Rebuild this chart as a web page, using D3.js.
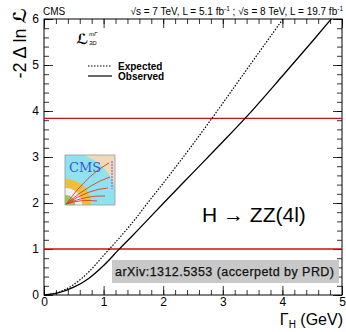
<!DOCTYPE html>
<html>
<head>
<meta charset="utf-8">
<script src="https://cdn.jsdelivr.net/npm/d3@7"></script>
<style>
  body { margin: 0; background: #fff; }
  svg { display: block; font-family: "Liberation Sans", Arial, sans-serif; }
</style>
</head>
<body>
<svg id="chart" width="346" height="332"></svg>
<script>
// values (Gamma_H in GeV, -2 Delta ln L)
const expectedX = [0, 0.25, 0.5, 0.75, 1.0, 1.25, 1.5, 1.75, 2.0, 2.5, 3.0, 3.5, 4.01];
const expectedY = [0, 0.06, 0.23, 0.5, 0.86, 1.22, 1.6, 2.02, 2.43, 3.28, 4.17, 5.08, 6.0];
const observedX = [0, 0.25, 0.5, 0.75, 1.0, 1.25, 1.5, 1.75, 2.0, 2.5, 3.0, 3.5, 4.0, 4.5, 4.82];
const observedY = [0, 0.05, 0.17, 0.36, 0.64, 0.98, 1.31, 1.65, 1.99, 2.66, 3.33, 4.02, 4.76, 5.51, 6.0];
const refLines = [1, 3.84];
const xTicks = [0, 1, 2, 3, 4, 5];
const yTicks = [0, 1, 2, 3, 4, 5, 6];

const svg = d3.select('#chart');
const margin = { left: 44, right: 4, top: 19, bottom: 37 };
const W = 346, H = 332;

const x = d3.scaleLinear().domain([0, 5]).range([margin.left, W - margin.right]);
const y = d3.scaleLinear().domain([0, 6]).range([H - margin.bottom, margin.top]);

const minorX = d3.range(0, 5.001, 0.2);
const minorY = d3.range(0, 6.001, 0.2);

// ticks on all four sides, pointing inwards (ROOT style)
function ticks(axis, scale, vals, size, transform, labels) {
  const g = svg.append('g')
    .attr('transform', transform)
    .call(axis(scale).tickValues(vals).tickSize(-size).tickPadding(labels ? 4 : 0)
      .tickFormat(labels ? d3.format('d') : ''));
  g.select('.domain').remove();
  g.selectAll('line').attr('stroke', '#000').attr('stroke-width', 0.8);
  g.selectAll('text').attr('font-size', 12).attr('fill', '#000');
  return g;
}
const bottomY = y(0), topY = y(6), leftX = x(0), rightX = x(5);
ticks(d3.axisBottom, x, minorX, 5, `translate(0,${bottomY})`, false);
const xg = ticks(d3.axisBottom, x, xTicks, 9, `translate(0,${bottomY})`, true);
xg.selectAll('text').attr('y', 11).attr('dy', 0);
ticks(d3.axisTop, x, minorX, 5, `translate(0,${topY})`, false);
ticks(d3.axisTop, x, xTicks, 9, `translate(0,${topY})`, false);
ticks(d3.axisLeft, y, minorY, 5, `translate(${leftX},0)`, false);
const yg = ticks(d3.axisLeft, y, yTicks, 9, `translate(${leftX},0)`, true);
yg.selectAll('text').attr('dx', '-0.1em');
ticks(d3.axisRight, y, minorY, 5, `translate(${rightX},0)`, false);
ticks(d3.axisRight, y, yTicks, 9, `translate(${rightX},0)`, false);

svg.append('rect')
  .attr('x', leftX).attr('y', topY)
  .attr('width', rightX - leftX).attr('height', bottomY - topY)
  .attr('fill', 'none').attr('stroke', '#000').attr('stroke-width', 1);

// CMS logo (simplified)
const logo = svg.append('g').attr('transform', 'translate(65,155)');
logo.append('clipPath').attr('id', 'logoclip')
  .append('rect').attr('width', 50).attr('height', 50);
const lg = logo.append('g').attr('clip-path', 'url(#logoclip)');
lg.append('rect').attr('width', 50).attr('height', 50).attr('fill', '#efd9b8');
lg.append('circle').attr('cx', 1).attr('cy', 49).attr('r', 52).attr('fill', '#8fe3ee');
lg.append('circle').attr('cx', 1).attr('cy', 49).attr('r', 25).attr('fill', '#eebf3c');
lg.append('circle').attr('cx', 1).attr('cy', 49).attr('r', 16).attr('fill', '#f3effa');
lg.append('circle').attr('cx', 1).attr('cy', 49).attr('r', 9).attr('fill', '#8ed04c');
lg.append('line').attr('x1', 47).attr('x2', 47).attr('y1', 6).attr('y2', 34)
  .attr('stroke', '#9a7fd0').attr('stroke-width', 1.5).attr('stroke-dasharray', '2,1');
[[44, 8, 24, 18], [45, 22, 26, 28], [43, 33, 24, 34], [40, 41, 22, 40], [32, 46, 16, 44]].forEach(([ex, ey, cx, cy]) => {
  lg.append('path').attr('d', `M1,49 Q${cx},${cy} ${ex},${ey}`)
    .attr('fill', 'none').attr('stroke', '#e03a2a').attr('stroke-width', 0.9);
});
lg.append('text').attr('x', 4).attr('y', 17).attr('font-family', '"DejaVu Serif", serif')
  .attr('font-size', 13).attr('fill', '#3b55d6').text('CMS');
logo.append('rect').attr('width', 50).attr('height', 50)
  .attr('fill', 'none').attr('stroke', '#999').attr('stroke-width', 0.8);

// reference lines
svg.selectAll('line.ref').data(refLines).join('line')
  .attr('class', 'ref')
  .attr('x1', leftX).attr('x2', rightX)
  .attr('y1', d => y(d)).attr('y2', d => y(d))
  .attr('stroke', '#cc1111').attr('stroke-width', 1.3);

// curves
const line = d3.line().x(d => x(d[0])).y(d => y(d[1])).curve(d3.curveMonotoneX);
svg.append('path')
  .datum(expectedX.map((v, i) => [v, expectedY[i]]))
  .attr('d', line).attr('fill', 'none').attr('stroke', '#000')
  .attr('stroke-width', 1.2).attr('stroke-dasharray', '1.5,1.5');
svg.append('path')
  .datum(observedX.map((v, i) => [v, observedY[i]]))
  .attr('d', line).attr('fill', 'none').attr('stroke', '#000')
  .attr('stroke-width', 1.3);

// legend
const lt = svg.append('text').attr('x', 76).attr('y', 44).attr('font-size', 14)
  .attr('font-weight', 'bold').attr('font-style', 'italic');
lt.append('tspan').attr('font-family', '"DejaVu Sans", sans-serif').text('ℒ');
svg.append('text').attr('x', 89).attr('y', 36).attr('font-size', 6)
  .attr('font-style', 'italic').text('mΓ');
svg.append('text').attr('x', 89).attr('y', 45).attr('font-size', 6)
  .attr('font-style', 'italic').text('3D');
svg.append('line').attr('x1', 88).attr('x2', 112).attr('y1', 66).attr('y2', 66)
  .attr('stroke', '#000').attr('stroke-width', 1.1).attr('stroke-dasharray', '1.5,1.5');
svg.append('line').attr('x1', 88).attr('x2', 112).attr('y1', 76).attr('y2', 76)
  .attr('stroke', '#000').attr('stroke-width', 1.2);
svg.append('text').attr('x', 118).attr('y', 70).attr('font-size', 10)
  .attr('font-weight', 'bold').text('Expected');
svg.append('text').attr('x', 118).attr('y', 80).attr('font-size', 10)
  .attr('font-weight', 'bold').text('Observed');

// decay label
svg.append('text').attr('x', 202).attr('y', 222).attr('font-size', 21).text('H → ZZ(4l)');

// arXiv box
svg.append('rect').attr('x', 112).attr('y', 260).attr('width', 227).attr('height', 23)
  .attr('fill', '#c8c8c8');
svg.append('text').attr('x', 115).attr('y', 276).attr('font-size', 12.5)
  .attr('textLength', 219).attr('fill', '#111').attr('stroke', '#111').attr('stroke-width', 0.25)
  .text('arXiv:1312.5353 (accerpetd by PRD)');

// header texts
svg.append('text').attr('x', 43).attr('y', 15).attr('font-size', 10).text('CMS');
const hdr = svg.append('text').attr('x', 343).attr('y', 15).attr('font-size', 10)
  .attr('text-anchor', 'end');
hdr.append('tspan').text('√s = 7 TeV, L = 5.1 fb');
hdr.append('tspan').attr('font-size', 6.5).attr('dy', -4).text('-1');
hdr.append('tspan').attr('dy', 4).text(' ; √s = 8 TeV, L = 19.7 fb');
hdr.append('tspan').attr('font-size', 6.5).attr('dy', -4).text('-1');

// axis titles
const xt = svg.append('text').attr('x', 343).attr('y', 325).attr('font-size', 16)
  .attr('text-anchor', 'end');
xt.append('tspan').text('Γ');
xt.append('tspan').attr('font-size', 10).attr('dy', 3).text('H');
xt.append('tspan').attr('dy', -3).text(' (GeV)');

const yt = svg.append('text').attr('transform', 'translate(26,8) rotate(-90)')
  .attr('text-anchor', 'end').attr('font-size', 18);
yt.append('tspan').text('-2 Δ ln ');
yt.append('tspan').attr('font-family', '"DejaVu Sans", sans-serif')
  .attr('font-weight', 'bold').attr('font-style', 'italic').text('ℒ');
</script>
</body>
</html>
